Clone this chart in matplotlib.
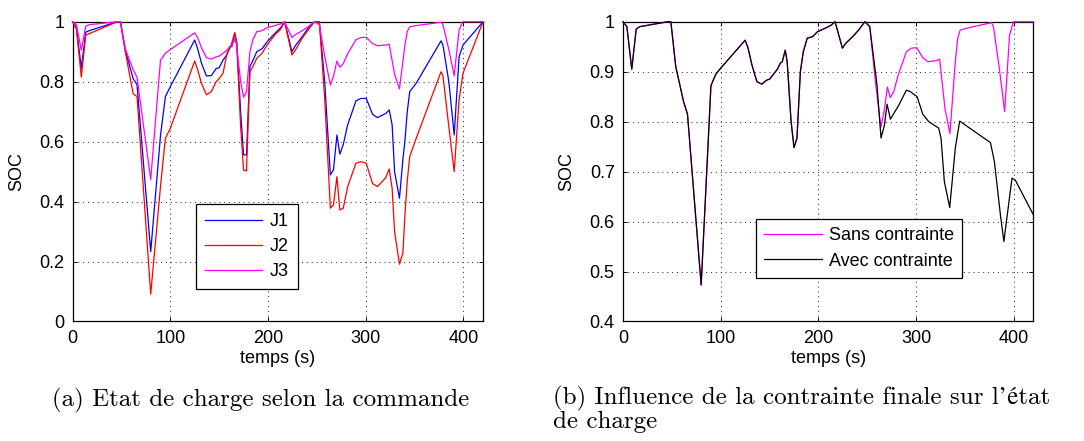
"""SOC curves: (a) per control law J1/J2/J3, (b) with / without final constraint."""

import matplotlib

matplotlib.use("Agg")
import matplotlib.pyplot as plt  # noqa: E402
from matplotlib.ticker import FuncFormatter  # noqa: E402

# Time grid shared by J1, J2, J3 (s)
t = [0, 4, 9, 13.5, 17, 46, 49, 54, 62, 66, 80, 90, 95, 100, 125, 128, 132, 137,
     142, 147, 150, 154, 158, 161, 163, 166, 168, 172, 175, 178, 181.5, 184.5,
     188.5, 194, 199, 207, 213, 217, 224.5, 228, 235, 241, 247.5, 252.5, 258,
     263.8, 267, 270.5, 273.5, 277, 281.5, 290, 295, 300.5, 307, 312, 320.5, 324,
     327, 329.5, 334.5, 338, 340, 342.5, 345, 351.5, 377, 379, 385, 390.5, 395.5,
     399.5, 420]
j1 = [1.0, 0.98, 0.845, 0.965, 0.97, 1.0, 1.0, 0.905, 0.81, 0.79, 0.233, 0.62, 0.75,
      0.783, 0.939, 0.91, 0.861, 0.819, 0.82, 0.844, 0.846, 0.872, 0.89, 0.917, 0.917,
      0.961, 0.93, 0.70, 0.556, 0.556, 0.85, 0.87, 0.90, 0.91, 0.933, 0.961, 0.98, 1.0,
      0.90, 0.92, 0.95, 0.978, 1.0, 1.0, 0.80, 0.489, 0.506, 0.622, 0.558, 0.59, 0.656,
      0.736, 0.744, 0.744, 0.691, 0.68, 0.694, 0.706, 0.656, 0.50, 0.411, 0.54, 0.60,
      0.70, 0.767, 0.794, 0.936, 0.922, 0.80, 0.622, 0.883, 0.922, 1.0]
j2 = [1.0, 0.975, 0.815, 0.955, 0.96, 1.0, 1.0, 0.90, 0.76, 0.75, 0.091, 0.45, 0.611,
      0.644, 0.869, 0.84, 0.794, 0.756, 0.767, 0.80, 0.81, 0.828, 0.894, 0.911, 0.93,
      0.964, 0.93, 0.65, 0.505, 0.502, 0.833, 0.85, 0.878, 0.895, 0.922, 0.956, 0.975,
      1.0, 0.889, 0.905, 0.945, 0.972, 1.0, 1.0, 0.744, 0.378, 0.389, 0.483, 0.372,
      0.378, 0.45, 0.528, 0.533, 0.528, 0.46, 0.45, 0.48, 0.509, 0.444, 0.30, 0.191,
      0.228, 0.35, 0.47, 0.55, 0.61, 0.833, 0.82, 0.65, 0.50, 0.739, 0.828, 1.0]
j3 = [1.0, 0.99, 0.905, 0.985, 0.99, 1.0, 1.0, 0.91, 0.84, 0.815, 0.473, 0.872, 0.895,
      0.907, 0.963, 0.947, 0.913, 0.88, 0.875, 0.883, 0.885, 0.895, 0.905, 0.917, 0.92,
      0.943, 0.92, 0.80, 0.748, 0.767, 0.90, 0.94, 0.967, 0.97, 0.98, 0.987, 0.993, 1.0,
      0.947, 0.957, 0.97, 0.983, 1.0, 0.99, 0.885, 0.789, 0.818, 0.869, 0.848, 0.86,
      0.893, 0.94, 0.947, 0.948, 0.927, 0.92, 0.922, 0.925, 0.87, 0.825, 0.776, 0.867,
      0.92, 0.967, 0.983, 0.987, 0.998, 0.99, 0.907, 0.82, 0.973, 1.0, 1.0]

# "Avec contrainte" follows J3 up to ~252 s, then this tail
t_avec_tail = [259.9, 264, 267.5, 270.2, 273.6, 282.2, 290, 294, 300.9, 306.7, 312.8,
               323, 325.4, 328.8, 334.3, 340, 344.5, 376, 380, 386.2, 389.7, 398,
               401.4, 420]
avec_tail = [0.873, 0.767, 0.793, 0.835, 0.805, 0.833, 0.863, 0.86, 0.85, 0.815, 0.80,
             0.787, 0.767, 0.68, 0.628, 0.747, 0.801, 0.758, 0.72, 0.613, 0.56, 0.687,
             0.683, 0.613]

x_ticks = [0, 100, 200, 300, 400]
y_ticks_a = [0, 0.2, 0.4, 0.6, 0.8, 1]
y_ticks_b = [0.4, 0.5, 0.6, 0.7, 0.8, 0.9, 1]

plt.rcParams["font.family"] = ["Liberation Sans", "DejaVu Sans"]
FS = 13
LW = 0.9
line_kw = dict(lw=LW, clip_on=False, zorder=3)


def style(ax, yticks):
    ax.set_xlim(0, 420)
    ax.set_ylim(yticks[0], yticks[-1])
    ax.set_xticks(x_ticks)
    ax.set_yticks(yticks)
    ax.yaxis.set_major_formatter(FuncFormatter(lambda v, _: f"{v:g}"))
    ax.tick_params(direction="in", top=True, right=True, length=3, width=0.7,
                   labelsize=FS, pad=6)
    ax.grid(True, color="#222222", linestyle=(0, (1, 4)), lw=0.7)
    for s in ax.spines.values():
        s.set_linewidth(0.9)
    ax.set_xlabel("temps (s)", fontsize=FS, labelpad=2)
    ax.set_ylabel("SOC", fontsize=FS, labelpad=10)


fig = plt.figure(figsize=(10.84, 4.41), dpi=100)
ax1 = fig.add_axes([0.0669, 0.2710, 0.3787, 0.6798])
ax2 = fig.add_axes([0.5747, 0.2710, 0.3787, 0.6798])

ax1.plot(t, j1, color="#0000ff", label="J1", **line_kw)
ax1.plot(t, j2, color="#ff0000", label="J2", **line_kw)
ax1.plot(t, j3, color="#ff00ff", label="J3", **line_kw)
style(ax1, y_ticks_a)
leg_kw = dict(loc="lower left", fontsize=FS, fancybox=False, framealpha=1,
              edgecolor="k", borderaxespad=0, handlelength=3.2, handletextpad=0.4,
              labelspacing=0.45, borderpad=0.5)
leg = ax1.legend(bbox_to_anchor=(0.300, 0.108), **leg_kw)
leg.get_frame().set_linewidth(0.9)
leg.set_zorder(5)

k = sum(1 for v in t if v <= 253)
t_avec = t[:k] + t_avec_tail
soc_avec = j3[:k] + avec_tail
ax2.plot(t, j3, color="#ff00ff", label="Sans contrainte", **line_kw)
ax2.plot(t_avec, soc_avec, color="k", label="Avec contrainte", **line_kw)
style(ax2, y_ticks_b)
leg = ax2.legend(bbox_to_anchor=(0.324, 0.146), **dict(leg_kw, borderpad=0.45))
leg.get_frame().set_linewidth(0.9)
leg.set_zorder(5)

cap = dict(family=["cmr10", "STIXGeneral", "DejaVu Serif"], fontsize=18, va="center")
fig.text(0.240, 1 - 400 / 441, "(a) Etat de charge selon la commande", ha="center", **cap)
fig.text(0.5104, 1 - 398 / 441, "(b) Influence de la contrainte finale sur l\u2019\u00e9tat",
         ha="left", **cap)
fig.text(0.5104, 1 - 422 / 441, "de charge", ha="left", **cap)

fig.savefig("out.png", dpi=100)
